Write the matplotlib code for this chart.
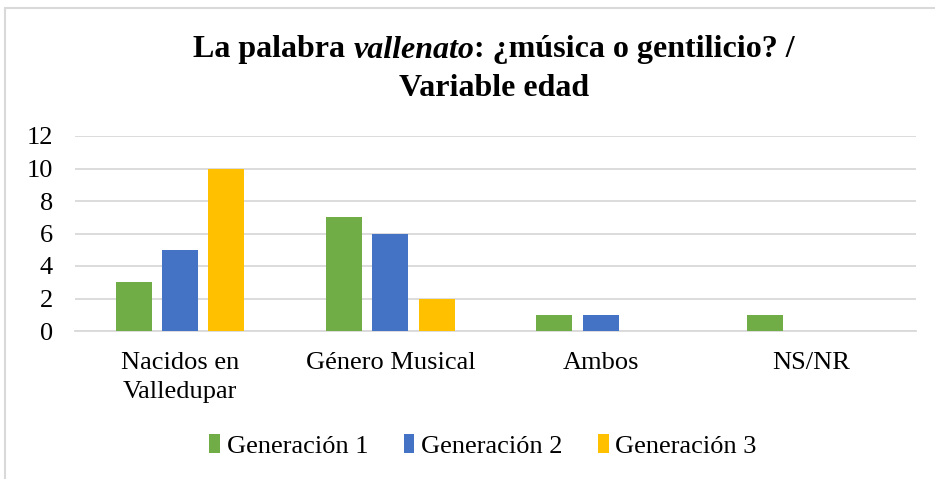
import matplotlib
matplotlib.use("Agg")
import matplotlib.pyplot as plt
import numpy as np
from matplotlib.patches import Rectangle

categories = ["Nacidos en\nValledupar", "Género Musical", "Ambos", "NS/NR"]
series_names = ["Generación 1", "Generación 2", "Generación 3"]
gen1 = [3, 7, 1, 1]
gen2 = [5, 6, 1, 0]
gen3 = [10, 2, 0, 0]
colors = ["#70AD47", "#4472C4", "#FFC000"]
yticks = [0, 2, 4, 6, 8, 10, 12]

plt.rcParams["font.family"] = ["Liberation Serif", "DejaVu Serif"]

W, H = 935, 479
fig = plt.figure(figsize=(W / 100, H / 100), dpi=100)
ax = fig.add_axes([75 / W, 1 - 331 / H, (916 - 75) / W, (331 - 136) / H])

x = np.arange(len(categories))
bw = 0.172
step = 0.22
for i, (vals, name, c) in enumerate(zip([gen1, gen2, gen3], series_names, colors)):
    ax.bar(x + (i - 1) * step, vals, width=bw, color=c, label=name, zorder=3)

ax.set_xlim(-0.5, len(categories) - 0.5)
ax.set_ylim(0, 12)
ax.set_yticks(yticks)
ax.set_yticklabels([str(t) for t in yticks], fontsize=19)
ax.set_xticks(x)
ax.set_xticklabels(categories, fontsize=19, linespacing=1.45)
ax.tick_params(axis="both", length=0)
ax.tick_params(axis="y", pad=16)
ax.tick_params(axis="x", pad=15)
ax.grid(axis="y", color="#D9D9D9", linewidth=1.3, zorder=0)
for s in ["top", "right", "left"]:
    ax.spines[s].set_visible(False)
ax.spines["bottom"].set_color("#D9D9D9")
ax.spines["bottom"].set_linewidth(1.3)

leg = fig.legend(loc="center", bbox_to_anchor=(483 / W, 1 - 446 / H), ncol=3, frameon=False,
                 fontsize=19, handlelength=0.4, handleheight=0.7, handletextpad=0.25,
                 columnspacing=1.35)

# border (only left and top visible within the image)
fig.patches.append(Rectangle((5 / W, -0.1), 1.2, 1 - 8 / H + 0.1, transform=fig.transFigure,
                             fill=False, edgecolor="#D9D9D9", linewidth=1.5))

# title with mixed italic
fig.canvas.draw()
r = fig.canvas.get_renderer()
pieces = [("La palabra ", "normal"), ("vallenato", "italic"), (": ¿música o gentilicio? /", "normal")]
fs = 23
texts = []
for s, st in pieces:
    t = fig.text(0, 1 - 50 / H, s, fontsize=fs, fontweight="bold", style=st, va="center", ha="left")
    texts.append(t)
fig.canvas.draw()
widths = [t.get_window_extent(r).width for t in texts]
total = sum(widths)
cx = 494
xpos = cx - total / 2
for t, w in zip(texts, widths):
    t.set_x(xpos / W)
    xpos += w
fig.text(cx / W, 1 - 88 / H, "Variable edad", fontsize=fs, fontweight="bold",
         ha="center", va="center")

fig.savefig("out.png", dpi=100)
